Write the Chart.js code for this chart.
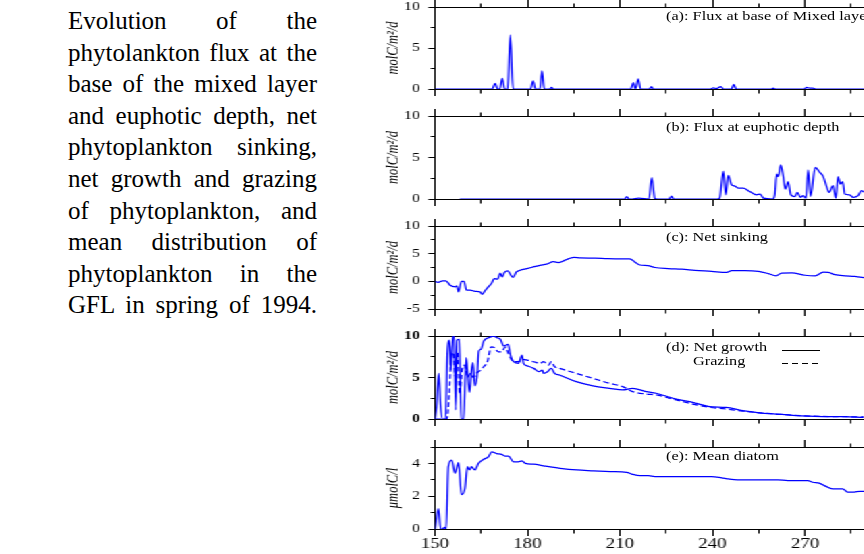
<!DOCTYPE html>
<html><head><meta charset="utf-8">
<script src="https://cdn.jsdelivr.net/npm/chart.js@4.4.1/dist/chart.umd.min.js"></script>
<style>
html,body{margin:0;padding:0;background:#fff;overflow:hidden;}
body{width:864px;height:554px;position:relative;}
#caption{position:absolute;left:68px;top:5px;width:249px;font-family:'Liberation Serif','Times New Roman',serif;font-size:25px;line-height:31.6px;color:#000;}
#caption div{text-align:justify;text-align-last:justify;}
#plots{position:absolute;left:360px;top:0;width:400px;height:554px;transform:scaleX(1.35);transform-origin:0 0;}
#plots canvas{position:absolute;left:0;}
.lbl{position:absolute;font-family:'Liberation Serif','Times New Roman',serif;font-size:12.5px;line-height:14px;white-space:nowrap;transform:scaleX(1.3);transform-origin:0 50%;color:#000;}
</style></head>
<body>
<div id="caption">
<div>Evolution of the</div>
<div>phytolankton flux at the</div>
<div>base of the mixed layer</div>
<div>and euphotic depth, net</div>
<div>phytoplankton sinking,</div>
<div>net growth and grazing</div>
<div>of phytoplankton, and</div>
<div>mean distribution of</div>
<div>phytoplankton in the</div>
<div>GFL in spring of 1994.</div>
</div>
<div id="plots">
<canvas id="pa" width="400" height="96" style="top:0px;width:400px;height:96px"></canvas>
<canvas id="pb" width="400" height="97" style="top:109px;width:400px;height:97px"></canvas>
<canvas id="pc" width="400" height="97" style="top:219px;width:400px;height:97px"></canvas>
<canvas id="pd" width="400" height="97" style="top:329px;width:400px;height:97px"></canvas>
<canvas id="pe" width="400" height="115" style="top:440px;width:400px;height:115px"></canvas>
</div>
<div class="lbl" style="left:666px;top:9px">(a): Flux at base of Mixed layer</div>
<div class="lbl" style="left:666px;top:120px">(b): Flux at euphotic depth</div>
<div class="lbl" style="left:666px;top:230px">(c): Net sinking</div>
<div class="lbl" style="left:666px;top:340px">(d): Net growth</div>
<div class="lbl" style="left:693px;top:354px">Grazing</div>
<div class="lbl" style="left:666px;top:449px">(e): Mean diatom</div>
<svg style="position:absolute;left:0;top:0" width="864" height="554">
<line x1="782" y1="350.5" x2="820" y2="350.5" stroke="#000" stroke-width="1"/>
<line x1="782" y1="363.5" x2="820" y2="363.5" stroke="#000" stroke-width="1" stroke-dasharray="6 4"/>
</svg>
<script>
// ---- data (day of year) ----
const xTicksMajor = [150, 180, 210, 240, 270];
const aDays = [150,168.5,169.5,170.3,171.0,171.8,172.6,173.6,174.4,175.3,181.0,181.8,182.6,184.0,184.7,185.4,187.2,187.8,188.4,213.5,214.3,215.0,215.9,216.7,219.6,220.2,220.8,239.4,240.3,241.3,242.7,243.5,246.1,246.9,247.7,259.1,259.7,260.3,269.8,270.5,271.5,272.5,273.4,290];
const aFlux = [0,0,0.7,0,0,1.3,0,0,6.6,0,0,1.0,0,0,2.2,0,0,0.2,0,0,0.77,0,1.25,0,0,0.3,0,0,0.15,0.05,0.3,0,0,0.55,0,0,0.1,0,0,0.2,0.1,0.12,0,0];

const bDays = [158,211.5,212.2,212.9,214,216,219.4,220.3,221.3,222,226,226.7,227.4,241.6,242.3,243.5,244.3,245.1,246.2,247.3,248.4,250,251.6,253,254.3,255.4,256.5,259.5,260.2,260.8,261.3,262.1,262.9,263.6,264.5,265.4,266.7,267.5,268.5,269.4,270.3,271,271.8,273.3,274.8,275.9,277,277.8,279.1,280,280.7,281.5,282.2,282.9,284.5,285.6,287.2,288.3,289.2];
const bFlux = [0,0,0.28,0,0,0.1,0,2.57,0.05,0,0,0.35,0,0,0.1,3.37,0.5,2.85,1.7,1.55,1.3,1.3,1.0,0.7,0.5,0.6,0.1,0,0.5,3.0,2.7,4.1,2.8,1.2,2.1,0.5,0.3,0.8,0.2,0.4,0.1,3.5,0.3,3.8,3.2,2.7,1.5,0.8,1.6,0.1,2.7,1.8,2.1,0.6,0.5,0.2,0.4,1.0,0.8];

const cDays = [150,151,152.5,153.5,154.9,156.5,157.1,157.6,158.6,159.4,160.2,161.4,163,164.6,165.3,166.2,167.3,168.4,169.2,170.3,171.1,171.8,172.5,173.6,174.5,175.3,176.4,177.6,179.8,181.9,184,186.2,188.4,190,191.7,193.4,195.1,197,201.9,206,210.5,213.2,214.8,216.5,219,221.3,225.6,230,234.3,239.7,244.6,246.2,250.5,254.9,258.1,260.6,262.4,265.7,270,273.3,275.9,277.6,279.7,283,286.2,289.6];
const cSink = [0,-0.2,0.1,0.1,-0.7,-1.0,-0.8,-1.9,0.0,0.0,-1.6,-1.6,-1.8,-1.9,-2.35,-1.7,-1.0,-0.3,0.5,0.4,1.5,0.8,1.6,1.9,1.2,0.7,1.7,2.0,2.3,2.6,2.9,3.1,3.55,3.4,3.7,4.1,4.35,4.25,4.2,4.1,4.05,4.05,3.5,2.95,2.85,2.5,2.3,2.2,2.0,1.8,1.6,1.95,1.95,1.8,1.4,1.0,1.5,1.55,1.1,1.0,1.65,1.6,1.2,1.0,0.9,0.6];

const dDays = [150,150.5,151.2,151.8,152.5,153.4,154,154.7,155.1,155.8,156.2,156.7,157.1,157.9,158.5,159.3,160.1,160.7,161.2,161.8,162.3,162.9,163.6,164.2,164.9,165.8,167.4,169,170.1,171.2,172.3,173.7,174.4,175.5,177.1,178.2,178.7,179.9,182,183.7,184.8,185.2,186.5,187.7,188.8,190.4,195.8,201.2,206.6,210.9,214.1,218.5,221.7,228.2,233.6,239,244.4,249.8,255.2,260.6,266,271.4,276.8,282.2,289];
const dGrowth = [0,1.5,5.5,1.5,0,0,8.0,9.5,5.9,10,10,1.1,9.5,9.6,0,0,7.4,4.8,3.2,5.8,6.8,4.0,5.0,8.2,8.4,9.4,9.8,10.0,9.8,9.6,8.8,9.0,7.8,6.9,6.7,7.7,6.7,6.4,6.1,5.7,5.9,5.5,5.7,6.1,5.5,5.3,4.5,4.0,3.7,3.5,3.7,3.3,3.1,2.4,2.0,1.5,1.4,1.0,0.75,0.6,0.45,0.35,0.3,0.3,0.2];
const gDays = [150,153.8,154.6,155.3,156,156.6,157.3,158,158.8,159.6,160.5,161.5,162.5,163.4,164.5,165.8,167,168.2,169.3,170.5,171.7,172.8,173.7,174.4,175.5,177.1,178.2,179.9,182,184.1,185.2,186.8,187.7,188.8,190.4,195.8,201.2,206.6,210.9,214.1,218.5,221.7,228.2,233.6,239,244.4,249.8,255.2,260.6,266,271.4,289];
const gGraze = [0,0,3.0,7.5,8.0,5.0,8.0,3.0,6.0,6.5,5.0,5.5,5.0,5.5,5.8,6.3,6.9,8.7,8.6,8.1,8.1,8.7,8.0,7.4,6.9,6.9,7.2,7.1,6.9,6.7,6.9,6.5,6.9,6.3,6.1,5.5,4.9,4.3,3.9,3.3,3.0,2.9,2.3,1.8,1.4,1.2,0.95,0.75,0.6,0.45,0.35,0.25];

const eDays = [150,151.1,151.8,152.5,153,153.6,154.3,155.4,156.5,157.6,158.6,159.7,160.5,161.2,161.8,162.9,164.1,165.8,167.3,168.4,170,171.6,172.7,173.8,175.5,177,178.2,179.3,182,185.2,190.6,196,201.4,206.8,212.2,213.8,216.5,219.2,221.3,229,234.3,239.7,243,245.2,248.1,255.7,261.1,264.4,270.9,272.5,274.6,276.8,278.9,282.2,283.8,286,287.7,289.6];
const eDiatom = [0,1.24,0,0,0.1,0,3.8,4.2,3.4,4.04,2.1,2.47,3.8,3.6,3.8,3.6,4.0,4.25,4.4,4.7,4.6,4.55,4.45,4.45,4.1,4.1,4.15,4.0,3.95,3.85,3.7,3.6,3.55,3.5,3.45,3.35,3.25,3.25,3.2,3.2,3.2,3.2,3.12,3.05,3.0,3.0,3.0,2.95,2.95,2.85,2.8,2.6,2.45,2.45,2.25,2.25,2.3,2.3];

const yTitleFlux = 'molC/m²/d';
const yTitleDiatom = 'μmolC/l';

// ---- drawing ----
const FONT = "'Liberation Serif','Times New Roman',serif";
const BLUE = '#0000ff';
function pts(xs, ys){ return xs.map((x,i)=>({x:x, y:ys[i]})); }
function isMult(v, m){ const r = Math.abs(v % m); return r < 1e-6 || Math.abs(r - m) < 1e-6; }
function zeroPad(s){ s.paddingLeft = 0; s.paddingRight = 0; s.paddingTop = 0; s.paddingBottom = 0; }

function makePanel(id, series, ymin, ymax, ystep, ymajor, title, isBottom, bold){
  const ctx = document.getElementById(id);
  new Chart(ctx, {
    type: 'line',
    data: { datasets: series.map(s => ({
      data: pts(s[0], s[1]), borderColor: BLUE, borderWidth: 1.25, borderDash: s[2] || [],
      pointRadius: 0, fill: false, cubicInterpolationMode: 'monotone'
    })) },
    options: {
      responsive: false, animation: false, events: [],
      layout: { padding: { left: 0, right: 1.85, top: 0, bottom: 0 } },
      plugins: { legend: { display: false }, tooltip: { enabled: false } },
      scales: {
        x: {
          type: 'linear', position: 'bottom', min: 150, max: 300,
          ticks: { stepSize: 15, autoSkip: false, maxRotation: 0, minRotation: 0, display: isBottom, padding: 0,
                   color: '#000', font: { family: FONT, size: 14 },
                   callback: v => (xTicksMajor.includes(v) || isMult(v, 30)) ? String(v) : '' },
          grid: { drawOnChartArea: false, drawTicks: true, tickLength: 7, tickColor: '#000', tickWidth: 1,
                  tickBorderDash: c => (c.tick && !isMult(c.tick.value, 30)) ? [3.5, 100] : [] },
          border: { display: true, color: '#000', width: 1 },
          afterFit: s => { s.height = isBottom ? 26 : 7; zeroPad(s); }
        },
        x2: {
          type: 'linear', axis: 'x', position: 'top', min: 150, max: 300,
          ticks: { stepSize: 15, autoSkip: false, display: false },
          grid: { drawOnChartArea: false, drawTicks: true, tickLength: 7, tickColor: '#000', tickWidth: 1,
                  tickBorderDash: c => (c.tick && !isMult(c.tick.value, 30)) ? [0, 3.5, 3.5, 100] : [] },
          border: { display: true, color: '#000', width: 1 },
          afterFit: s => { s.height = 7; zeroPad(s); }
        },
        y: {
          type: 'linear', position: 'left', min: ymin, max: ymax,
          ticks: { stepSize: ystep, autoSkip: false, padding: 6, color: '#000',
                   font: { family: FONT, size: 12, weight: bold ? 'bold' : 'normal' },
                   callback: v => isMult(v, ymajor) ? String(v) : '' },
          grid: { drawOnChartArea: false, drawTicks: true, tickLength: 5, tickColor: '#000', tickWidth: 1,
                  tickBorderDash: c => (c.tick && !isMult(c.tick.value, ymajor)) ? [0, 1.8, 3.2, 100] : [] },
          border: { display: true, color: '#000', width: 1 },
          title: { display: true, text: title, color: '#000', padding: { top: 17, bottom: 0 },
                   font: { family: FONT, size: 12.5, style: 'italic' } },
          afterFit: s => { s.width = 55.556; zeroPad(s); }
        }
      }
    }
  });
}

makePanel('pa', [[aDays, aFlux]], 0, 10, 2.5, 5, yTitleFlux, false, false);
makePanel('pb', [[bDays, bFlux]], 0, 10, 2.5, 5, yTitleFlux, false, false);
makePanel('pc', [[cDays, cSink]], -5, 10, 2.5, 5, yTitleFlux, false, false);
makePanel('pd', [[dDays, dGrowth], [gDays, gGraze, [4.5, 2.5]]], 0, 10, 2.5, 5, yTitleFlux, false, true);
makePanel('pe', [[eDays, eDiatom]], 0, 5, 1, 2, yTitleDiatom, true, false);
</script>
</body></html>
